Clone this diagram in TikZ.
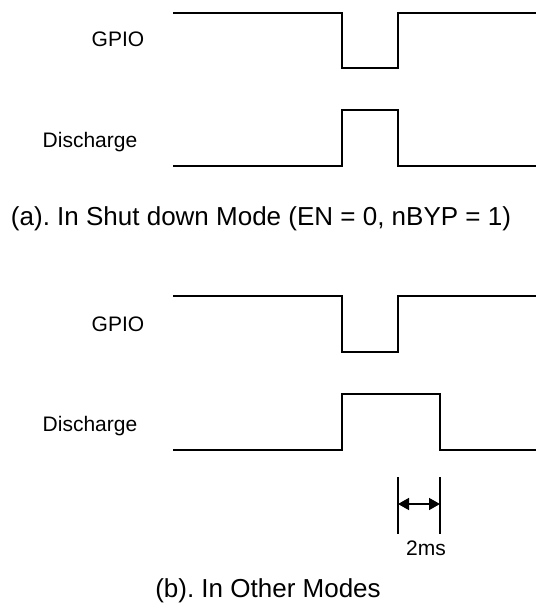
\documentclass[tikz,border=0pt]{standalone}
\usepackage{fontspec}
\setmainfont{Liberation Sans}
\usetikzlibrary{arrows.meta}
\frenchspacing

\begin{document}
\begin{tikzpicture}[
    x=1pt, y=-1pt,
    wave/.style={line width=1.5pt, line join=miter},
    lbl/.style={font=\fontsize{21}{25}\selectfont, inner sep=0pt, anchor=base},
    caption/.style={font=\fontsize{26}{31}\selectfont, inner sep=0pt, anchor=base},
    tickline/.style={line width=1.5pt},
    dim/.style={{Triangle[length=11pt,width=12pt]}-{Triangle[length=11pt,width=12pt]}, line width=1.5pt}]
    \useasboundingbox (0,0) rectangle (536,615);
    % (a) shut down mode
    \node[lbl] (gpioa) at (118,47) {GPIO};
    \node[lbl] (disa) at (90,147) {Discharge};
    \draw[wave] (173,13) -- (342,13) -- (342,68) -- (398,68) -- (398,13) -- (536,13);
    \draw[wave] (173,166) -- (342,166) -- (342,110) -- (398,110) -- (398,166) -- (536,166);
    \node[caption] (capa) at (261,225) {(a). In Shut down Mode (EN = 0, nBYP = 1)};
    % (b) other modes
    \node[lbl] (gpiob) at (118,331) {GPIO};
    \node[lbl] (disb) at (90,431) {Discharge};
    \draw[wave] (173,296) -- (342,296) -- (342,352) -- (398,352) -- (398,296) -- (536,296);
    \draw[wave] (173,450) -- (342,450) -- (342,394) -- (440,394) -- (440,450) -- (536,450);
    \coordinate (ta) at (398,504);
    \coordinate (tb) at (440,504);
    \draw[tickline] (398,477) -- (398,534);
    \draw[tickline] (440,477) -- (440,534);
    \draw[dim] (ta) -- (tb);
    \node[lbl] (dt) at (426,555) {2ms};
    \node[caption] (capb) at (268,597) {(b). In Other Modes};
\end{tikzpicture}
\end{document}
